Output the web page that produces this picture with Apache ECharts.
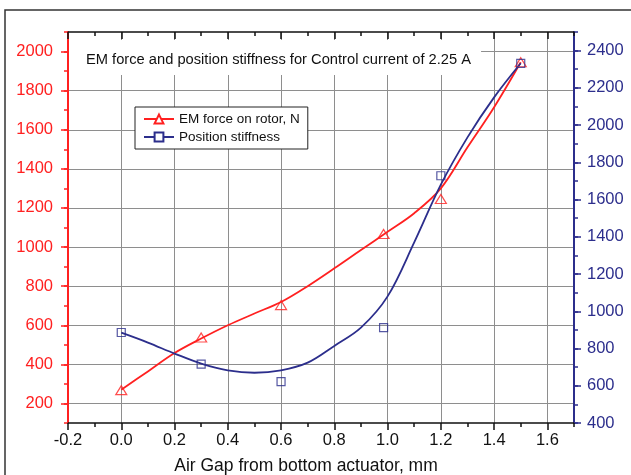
<!DOCTYPE html>
<html><head><meta charset="utf-8">
<script src="https://cdn.jsdelivr.net/npm/echarts@6/dist/echarts.min.js"></script>
<style>html,body{margin:0;padding:0;background:#fff}#c{width:631px;height:475px}</style>
</head><body><div id="c"></div>
<script>
// ---- data ----
const gapX = [0.0, 0.3, 0.6, 0.985, 1.2, 1.5];
const emForce = [268, 537, 703, 1067, 1246, 1945];          // N, left axis
const stiffness = [886, 716, 622, 912, 1728, 2332];         // right axis
// fitted curves as drawn in the picture
const fitX = [0.0, 0.1, 0.2, 0.3, 0.4, 0.5, 0.6, 0.7, 0.8, 0.9, 1.0, 1.1, 1.2, 1.3, 1.4, 1.5];
const emForceFit = [270, 364, 458, 532, 600, 660, 719, 800, 891, 985, 1078, 1173, 1300, 1510, 1715, 1945];
const stiffnessFit = [885, 832, 773, 719, 683, 670, 683, 724, 814, 912, 1080, 1370, 1680, 1934, 2149, 2332];
const xTickLabels = [-0.2, 0.0, 0.2, 0.4, 0.6, 0.8, 1.0, 1.2, 1.4, 1.6];
const leftTickLabels = [200, 400, 600, 800, 1000, 1200, 1400, 1600, 1800, 2000];
const rightTickLabels = [400, 600, 800, 1000, 1200, 1400, 1600, 1800, 2000, 2200, 2400];
const titleText = 'EM force and position stiffness for Control current of 2.25 A';
const xName = 'Air Gap from bottom actuator, mm';
const forceName = 'EM force on rotor, N';
const stiffName = 'Position stiffness';

const RED = '#ff2020';
const NAVY = '#2c2e8c';
const BLACK = '#111';
const GRID = '#8e8e8e';
const FONT = 'Liberation Sans, Arial, sans-serif';

const chart = echarts.init(document.getElementById('c'), null, {renderer: 'canvas'});
const zip = (xs, ys) => xs.map((x, i) => [x, ys[i]]);
const plain = v => String(v);

const option = {
  backgroundColor: '#fff',
  animation: false,
  textStyle: {fontFamily: FONT},
  graphic: [{
    type: 'rect', silent: true, z: -10,
    shape: {x: 5, y: 10, width: 700, height: 500},
    style: {fill: 'none', stroke: '#333', lineWidth: 1.5}
  }],
  title: {
    text: titleText, left: 69, top: 40,
    padding: [12, 10, 8, 17], backgroundColor: '#fff',
    textStyle: {fontSize: 14.7, fontWeight: 'normal', color: BLACK, fontFamily: FONT}
  },
  legend: {
    orient: 'vertical', left: 135, top: 107,
    padding: [5, 8, 5, 8], borderColor: '#222', borderWidth: 1, backgroundColor: '#fff',
    itemWidth: 30, itemHeight: 11, itemGap: 4,
    textStyle: {fontSize: 13.5, color: BLACK, fontFamily: FONT},
    data: [forceName, stiffName]
  },
  grid: {left: 68, right: 57, top: 32, bottom: 52, containLabel: false, outerBoundsMode: 'none'},
  xAxis: [
    {
      type: 'value', position: 'bottom', min: -0.2, max: 1.7, interval: 0.1,
      name: xName, nameLocation: 'middle', nameGap: 34,
      nameTextStyle: {fontSize: 17.5, color: BLACK, fontFamily: FONT, padding: [0, 30, 0, 0]},
      axisLine: {onZero: false, lineStyle: {color: BLACK, width: 1.5}},
      axisTick: {customValues: xTickLabels, length: 7, lineStyle: {color: BLACK, width: 1.5}},
      axisLabel: {customValues: xTickLabels, formatter: v => Number(v).toFixed(1), margin: 9, fontSize: 16.5, color: BLACK, fontFamily: FONT},
      splitLine: {show: true, lineStyle: {color: GRID, width: 1}}
    },
    {
      type: 'value', position: 'bottom', min: -0.2, max: 1.7, interval: 0.1,
      axisLine: {show: false, onZero: false},
      axisTick: {length: 4, lineStyle: {color: BLACK, width: 1.5}},
      axisLabel: {show: false}, splitLine: {show: false}
    },
    {
      type: 'value', position: 'top', min: -0.2, max: 1.7, interval: 0.1,
      axisLine: {onZero: false, lineStyle: {color: BLACK, width: 1.5}},
      axisTick: {inside: true, customValues: xTickLabels, length: 7, lineStyle: {color: BLACK, width: 1.5}},
      axisLabel: {show: false}, splitLine: {show: false}
    },
    {
      type: 'value', position: 'top', min: -0.2, max: 1.7, interval: 0.1,
      axisLine: {show: false, onZero: false},
      axisTick: {inside: true, length: 4, lineStyle: {color: BLACK, width: 1.5}},
      axisLabel: {show: false}, splitLine: {show: false}
    }
  ],
  yAxis: [
    {
      type: 'value', position: 'left', min: 100, max: 2100, interval: 100,
      axisLine: {show: true, onZero: false, lineStyle: {color: RED, width: 2}},
      axisTick: {show: true, customValues: leftTickLabels, length: 7, lineStyle: {color: RED, width: 1.5}},
      axisLabel: {customValues: leftTickLabels, formatter: plain, margin: 15, fontSize: 16.5, color: RED, fontFamily: FONT},
      splitLine: {show: true, lineStyle: {color: GRID, width: 1}}
    },
    {
      type: 'value', position: 'right', min: 400, max: 2500, interval: 100,
      axisLine: {show: true, onZero: false, lineStyle: {color: NAVY, width: 2}},
      axisTick: {show: true, customValues: rightTickLabels, length: 7, lineStyle: {color: NAVY, width: 1.5}},
      axisLabel: {customValues: rightTickLabels, formatter: plain, margin: 13, fontSize: 16.5, color: NAVY, fontFamily: FONT},
      splitLine: {show: false}
    },
    {
      type: 'value', position: 'left', min: 100, max: 2100, interval: 100,
      axisLine: {show: false, onZero: false},
      axisTick: {show: true, length: 4, lineStyle: {color: RED, width: 1.5}},
      axisLabel: {show: false}, splitLine: {show: false}
    },
    {
      type: 'value', position: 'right', min: 400, max: 2500, interval: 100,
      axisLine: {show: false, onZero: false},
      axisTick: {show: true, length: 4, lineStyle: {color: NAVY, width: 1.5}},
      axisLabel: {show: false}, splitLine: {show: false}
    }
  ],
  series: [
    {
      name: forceName, type: 'line', xAxisIndex: 0, yAxisIndex: 0,
      data: zip(fitX, emForceFit), smooth: 0.35, showSymbol: false,
      symbol: 'triangle', symbolSize: 10, silent: true, z: 3,
      lineStyle: {color: RED, width: 1.8},
      itemStyle: {color: '#fff', borderColor: RED, borderWidth: 1.2}
    },
    {
      name: stiffName, type: 'line', xAxisIndex: 0, yAxisIndex: 1,
      data: zip(fitX, stiffnessFit), smooth: 0.35, showSymbol: false,
      symbol: 'rect', symbolSize: 8, silent: true, z: 3,
      lineStyle: {color: NAVY, width: 1.8},
      itemStyle: {color: '#fff', borderColor: NAVY, borderWidth: 1.2}
    },
    {
      name: forceName, type: 'scatter', xAxisIndex: 0, yAxisIndex: 0,
      data: zip(gapX, emForce), symbol: 'triangle', symbolSize: [11, 9], z: 4, silent: true,
      itemStyle: {color: 'rgba(255,255,255,0)', borderColor: RED, borderWidth: 1.2}
    },
    {
      name: stiffName, type: 'scatter', xAxisIndex: 0, yAxisIndex: 1,
      data: zip(gapX, stiffness), symbol: 'rect', symbolSize: 8, z: 4, silent: true,
      itemStyle: {color: 'rgba(255,255,255,0)', borderColor: NAVY, borderWidth: 1.2}
    }
  ]
};
chart.setOption(option);
</script>
</body></html>
